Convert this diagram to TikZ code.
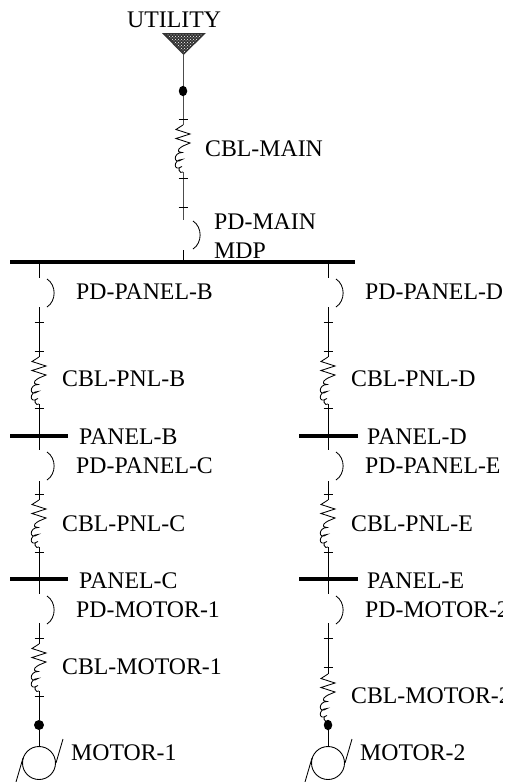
\documentclass[tikz,border=0pt]{standalone}
\usepackage{fontspec}
\usetikzlibrary{shapes.geometric,patterns}
\setmainfont{Liberation Serif}
\tikzset{
 lbl/.style={inner sep=0pt,anchor=base west,font=\fontsize{23.8}{26}\selectfont},
 wire/.style={line width=.85pt,black},
 bus/.style={line width=3.4pt,black},
 jct/.style={circle,fill=black,draw=none,minimum size=10pt,inner sep=0pt},
 jctb/.style={ellipse,fill=black,draw=none,minimum width=8.5pt,minimum height=10.5pt,inner sep=0pt},
}
% #1 x, #2 y of top of the zigzag, #3 name prefix: leaves (#3t) and (#3b)
\newcommand{\cblsym}[3]{%
 \coordinate (#3t) at (#1,#2);
 \coordinate (#3b) at (#1,#2+47);
 \draw[wire] (#3t) -- ++(-7,4.5) -- ++(14,4.5) -- ++(-14,4.5) -- ++(14,4.5) -- ++(-7,3)
  .. controls +(-2,1) and +(-8,-1) .. ++(-1,6.5)
  .. controls +(-9,0) and +(-9,6) .. ++(0,7)
  .. controls +(-9,0) and +(-9,6) .. ++(0,7)
  .. controls +(-6,0) and +(-3,3) .. (#3b);}
\newcommand{\tickmark}[2]{\draw[wire] (#1-4.5,#2) -- (#1+4.5,#2);}
\newcommand{\pdarc}[2]{\draw[wire] (#1+8,#2) .. controls (#1+17.5,#2+6) and (#1+17.5,#2+22) .. (#1+8,#2+28);}
\newcommand{\motorsym}[2]{%
 \node[draw,line width=.9pt,circle,minimum size=33pt,inner sep=0pt] (#2) at (#1,763) {};
 \draw[wire] (#1-23,782) -- (#1-16,758);
 \draw[wire] (#1+17,763) -- (#1+24,739);}
\begin{document}
\begin{tikzpicture}[x=1pt,y=-1pt]
\useasboundingbox (0,0) rectangle (505,782);
\begin{scope}
\clip (0,0) rectangle (502,782);
% utility
\node[lbl] (tU) at (127,27) {UTILITY};
\fill[black!80] (162,33) -- (206,33) -- (183.5,55) -- cycle;
\fill[pattern=crosshatch dots,pattern color=white] (165,34) -- (203,34) -- (183.5,53) -- cycle;
\coordinate (src) at (183,55);
\coordinate (pdMt) at (183,220);
\coordinate (pdMb) at (183,250);
\coordinate (busM) at (183,262);
\cblsym{183}{125}{cm}
\draw[wire,black!70] (src) -- (cmt) (cmb) -- (pdMt);
\draw[wire] (pdMb) -- (busM);
\node[jctb] (j0) at (183,91) {};
\tickmark{183}{119}\tickmark{183}{178}\tickmark{183}{207}
\pdarc{185}{221}
\node[lbl] at (205,156) {CBL-MAIN};
\node[lbl] at (214,229) {PD-MAIN};
\node[lbl] at (214,258) {MDP};
\draw[bus] (10,262) -- (355,262);
% columns
\foreach \x/\bx/\bxx/\n in {39/10/68/l, 328/299/358/r}{
 \coordinate (\n a) at (\x,262);
 \coordinate (\n b) at (\x,278);
 \coordinate (\n c) at (\x,307);
 \coordinate (\n d) at (\x,450);
 \coordinate (\n e) at (\x,481);
 \coordinate (\n f) at (\x,594);
 \coordinate (\n g) at (\x,623);
 \cblsym{\x}{357}{\n 1}
 \cblsym{\x}{500}{\n 2}
 \draw[wire] (\n a) -- (\n b) (\n c) -- (\n 1t) (\n 1b) -- (\n d);
 \draw[wire] (\n e) -- (\n 2t) (\n 2b) -- (\n f);
 \pdarc{\x}{279}
 \tickmark{\x}{322}\tickmark{\x}{351}\tickmark{\x}{408}
 \draw[bus] (\bx,436) -- (\bxx,436);
 \pdarc{\x}{452}
 \tickmark{\x}{494}\tickmark{\x}{552}
 \draw[bus] (\bx,579) -- (\bxx,579);
 \pdarc{\x}{596}
 \tickmark{\x}{638}
 \motorsym{\x}{m\n}
}
\node[jct] (jL) at (39,725) {};
\node[jctb] (jR) at (328,725) {};
\cblsym{39}{644}{l3}
\draw[wire] (lg) -- (l3t) (l3b) -- (jL) -- (ml);
\tickmark{39}{696}
\cblsym{328}{674}{r3}
\draw[wire] (rg) -- (r3t) (r3b) -- (jR) -- (mr);
\tickmark{328}{667}
% labels
\node[lbl] at (76,299) {PD-PANEL-B};
\node[lbl] at (365,299) {PD-PANEL-D};
\node[lbl] at (62,386) {CBL-PNL-B};
\node[lbl] at (351,386) {CBL-PNL-D};
\node[lbl] at (79,444) {PANEL-B};
\node[lbl] at (367,444) {PANEL-D};
\node[lbl] at (76,473) {PD-PANEL-C};
\node[lbl] at (365,473) {PD-PANEL-E};
\node[lbl] at (62,531) {CBL-PNL-C};
\node[lbl] at (351,531) {CBL-PNL-E};
\node[lbl] at (79,588) {PANEL-C};
\node[lbl] at (367,588) {PANEL-E};
\node[lbl] at (76,617) {PD-MOTOR-1};
\node[lbl] at (365,617) {PD-MOTOR-2};
\node[lbl] at (62,674) {CBL-MOTOR-1};
\node[lbl] at (351,703) {CBL-MOTOR-2};
\node[lbl] at (71,760) {MOTOR-1};
\node[lbl] at (360,760) {MOTOR-2};
\end{scope}
\end{tikzpicture}
\end{document}
